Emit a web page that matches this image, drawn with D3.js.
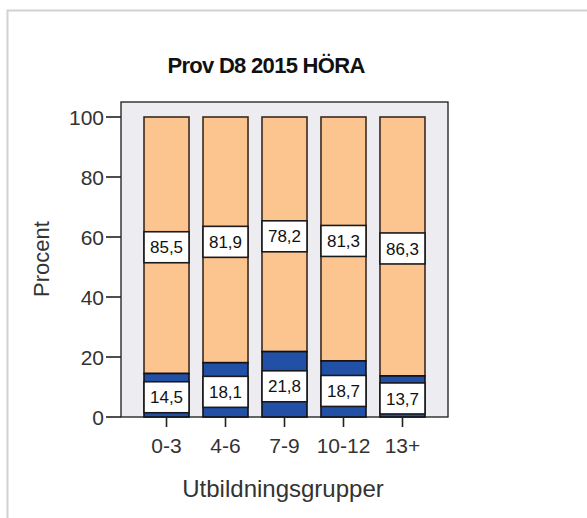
<!DOCTYPE html>
<html>
<head>
<meta charset="utf-8">
<script src="https://cdn.jsdelivr.net/npm/d3@7"></script>
<style>
  body { margin: 0; background: #fff; }
  svg { display: block; font-family: "Liberation Sans", Arial, sans-serif; }
</style>
</head>
<body>
<script>
var categories = ['0-3', '4-6', '7-9', '10-12', '13+'];
var lower = [14.5, 18.1, 21.8, 18.7, 13.7];
var upper = [85.5, 81.9, 78.2, 81.3, 86.3];
var yTicks = [0, 20, 40, 60, 80, 100];

var width = 587, height = 518;
var plot = {left: 121, right: 448, top: 102, bottom: 417};

var svg = d3.select('body').append('svg')
    .attr('width', width)
    .attr('height', height);

// outer frame
svg.append('rect')
    .attr('x', 7.5).attr('y', 10.5)
    .attr('width', width + 10).attr('height', height + 10)
    .attr('fill', '#fff')
    .attr('stroke', '#d2d2d2')
    .attr('stroke-width', 2);

var x = d3.scaleBand()
    .domain(categories)
    .range([plot.left, plot.right])
    .paddingInner(0.237)
    .paddingOuter(0.39);

var y = d3.scaleLinear()
    .domain([0, 100])
    .range([417, 117]);

// plot background
svg.append('rect')
    .attr('x', plot.left).attr('y', plot.top)
    .attr('width', plot.right - plot.left)
    .attr('height', plot.bottom - plot.top)
    .attr('fill', '#ededf1')
    .attr('stroke', '#1a1a1a')
    .attr('stroke-width', 1.3);

var rows = categories.map(function(c, i) {
  return {cat: c, lo: lower[i], up: upper[i]};
});

var g = svg.append('g');

// upper (peach) segment
g.selectAll('rect.up')
  .data(rows)
  .enter().append('rect')
    .attr('class', 'up')
    .attr('x', d => x(d.cat))
    .attr('y', d => y(d.lo + d.up))
    .attr('width', x.bandwidth())
    .attr('height', d => y(d.lo) - y(d.lo + d.up))
    .attr('fill', '#fcc58f')
    .attr('stroke', '#3a2a20')
    .attr('stroke-width', 1.6);

// lower (blue) segment
g.selectAll('rect.lo')
  .data(rows)
  .enter().append('rect')
    .attr('class', 'lo')
    .attr('x', d => x(d.cat))
    .attr('y', d => y(d.lo))
    .attr('width', x.bandwidth())
    .attr('height', d => y(0) - y(d.lo))
    .attr('fill', '#2150a6')
    .attr('stroke', '#111')
    .attr('stroke-width', 1.6);

var fmt = function(v) { return d3.format('.1f')(v).replace('.', ','); };

function labels(cls, mid, val) {
  var lg = g.selectAll('g.' + cls)
    .data(rows)
    .enter().append('g')
      .attr('class', cls)
      .attr('transform', d => 'translate(' + (x(d.cat) + x.bandwidth() / 2) + ',' + (y(mid(d)) + 2) + ')');
  lg.append('rect')
      .attr('x', -x.bandwidth() / 2)
      .attr('y', -15.5)
      .attr('width', x.bandwidth())
      .attr('height', 31)
      .attr('fill', '#fff')
      .attr('stroke', '#1a1a1a')
      .attr('stroke-width', 1.6);
  lg.append('text')
      .attr('text-anchor', 'middle')
      .attr('dy', '0.36em')
      .attr('font-size', 17)
      .attr('fill', '#111')
      .text(d => fmt(val(d)));
}
labels('lolab', d => d.lo / 2, d => d.lo);
labels('uplab', d => d.lo + d.up / 2, d => d.up);

// y axis
var ya = svg.append('g');
ya.selectAll('line')
  .data(yTicks)
  .enter().append('line')
    .attr('x1', plot.left - 15).attr('x2', plot.left)
    .attr('y1', d => y(d)).attr('y2', d => y(d))
    .attr('stroke', '#222').attr('stroke-width', 1.6);
ya.selectAll('text')
  .data(yTicks)
  .enter().append('text')
    .attr('x', plot.left - 17)
    .attr('y', d => y(d))
    .attr('dy', '0.36em')
    .attr('text-anchor', 'end')
    .attr('font-size', 21)
    .attr('fill', '#333')
    .text(d => d);

// x axis
var xa = svg.append('g');
xa.selectAll('line')
  .data(categories)
  .enter().append('line')
    .attr('x1', d => x(d) + x.bandwidth() / 2)
    .attr('x2', d => x(d) + x.bandwidth() / 2)
    .attr('y1', plot.bottom).attr('y2', plot.bottom + 10)
    .attr('stroke', '#222').attr('stroke-width', 1.6);
xa.selectAll('text')
  .data(categories)
  .enter().append('text')
    .attr('x', d => x(d) + x.bandwidth() / 2)
    .attr('y', 445)
    .attr('dy', '0.36em')
    .attr('text-anchor', 'middle')
    .attr('font-size', 21)
    .attr('fill', '#333')
    .text(d => d);

svg.append('text')
    .attr('x', 283).attr('y', 488)
    .attr('dy', '0.36em')
    .attr('text-anchor', 'middle')
    .attr('font-size', 24)
    .attr('fill', '#333')
    .text('Utbildningsgrupper');

svg.append('text')
    .attr('transform', 'translate(41,259) rotate(-90)')
    .attr('dy', '0.36em')
    .attr('text-anchor', 'middle')
    .attr('font-size', 22)
    .attr('fill', '#333')
    .text('Procent');

svg.append('text')
    .attr('x', 266).attr('y', 65)
    .attr('dy', '0.36em')
    .attr('text-anchor', 'middle')
    .attr('font-size', 22)
    .attr('font-weight', 'bold')
    .attr('letter-spacing', -0.7)
    .attr('fill', '#111')
    .text('Prov D8 2015 HÖRA');
</script>
</body>
</html>
